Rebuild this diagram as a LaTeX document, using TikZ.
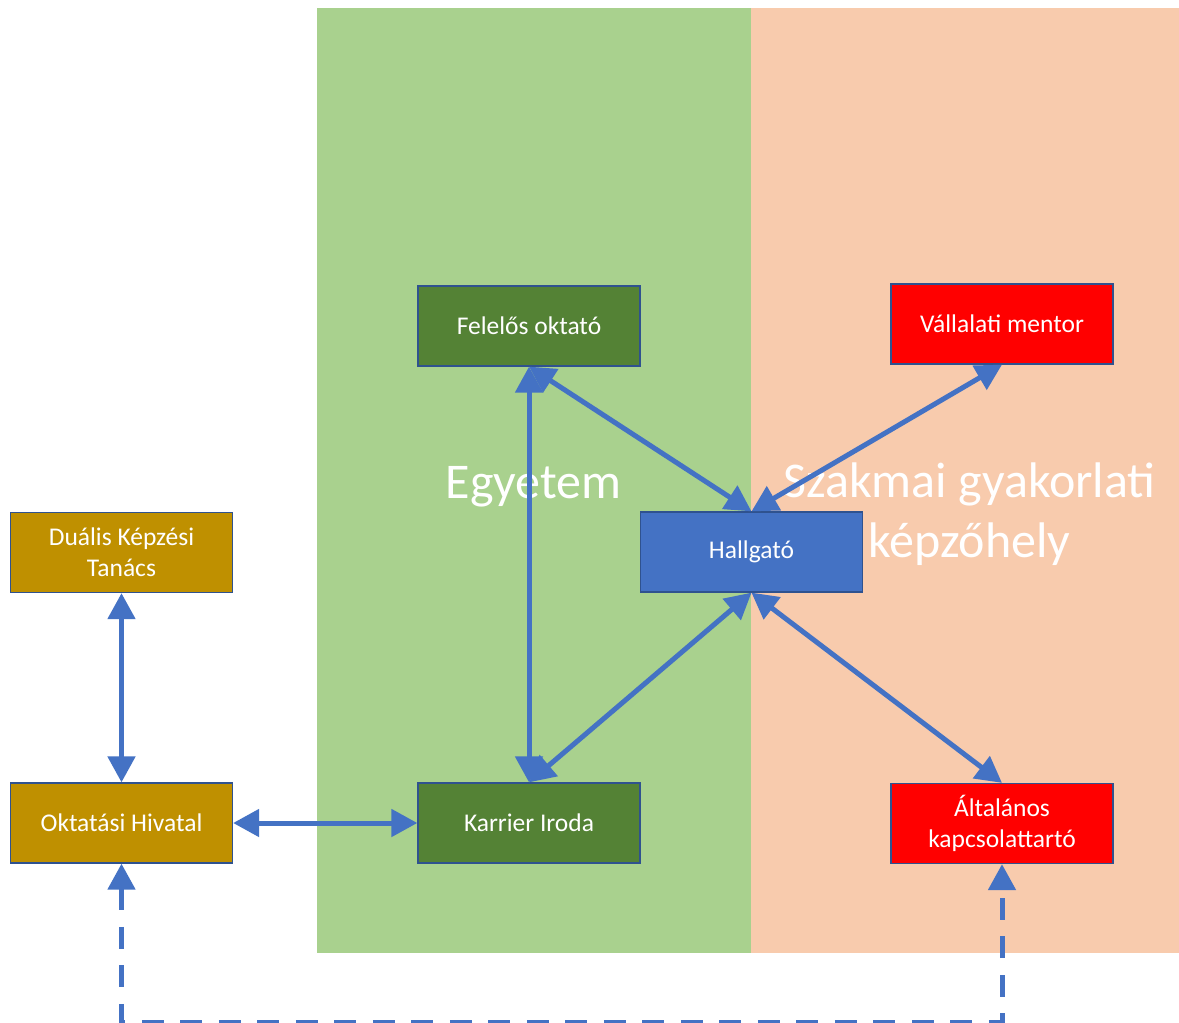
\documentclass[tikz,border=0pt]{standalone}
\usepackage{fontspec}
\setmainfont{Carlito}
\usetikzlibrary{arrows.meta}
\definecolor{lgreen}{HTML}{A9D18E}
\definecolor{peach}{HTML}{F8CBAD}
\definecolor{dgreen}{HTML}{548235}
\definecolor{bblue}{HTML}{4472C4}
\definecolor{gold}{HTML}{BF9000}
\definecolor{rred}{HTML}{FF0000}
\definecolor{bordc}{HTML}{2F528F}
\begin{document}
\begin{tikzpicture}[x=1pt,y=-1pt,
  box/.style={draw=bordc, line width=1.3pt, minimum width=222pt, minimum height=80pt,
    inner sep=0pt, text=white, align=center, font=\fontsize{25.5pt}{31pt}\selectfont},
  bigtext/.style={text=white, align=center, inner sep=0pt, font=\fontsize{50pt}{60pt}\selectfont},
  tip/.tip={Triangle[length=26pt,width=27pt]},
  link/.style={draw=bblue, line width=5pt, tip-tip},
  dlink/.style={draw=bblue, line width=5pt, tip-tip, dash pattern=on 22pt off 16.5pt}
]
\useasboundingbox (0,0) rectangle (1179,1023);
\fill[white] (0,0) rectangle (1179,1023);
\fill[lgreen] (317,8) rectangle (751,953);
\fill[peach] (751,8) rectangle (1179,953);

\node[bigtext, anchor=base] (uni) at (533.5,498) {Egyetem};
\node[bigtext, anchor=base] (firm) at (969.5,557) {Szakmai gyakorlati\\képzőhely};

\node[box, fill=dgreen] (fel) at (529,326) {Felelős oktató};
\node[box, fill=rred] (vm) at (1002,324) {Vállalati mentor};
\node[box, fill=bblue] (hall) at (751.5,552) {Hallgató};
\node[box, fill=gold] (dkt) at (121.5,552.5) {Duális Képzési\\Tanács};
\node[box, fill=gold] (oh) at (121.5,823) {Oktatási Hivatal};
\node[box, fill=dgreen] (ki) at (529,823) {Karrier Iroda};
\node[box, fill=rred] (alt) at (1002,823.5) {Általános\\kapcsolattartó};

\coordinate (c1) at (121.5,1022);
\coordinate (c2) at (1002,1022);

\draw[link] (fel.south) -- (ki.north);
\draw[link] (fel.south) -- (hall.north);
\draw[link] (hall.north) -- (vm.south);
\draw[link] (hall.south) -- (ki.north);
\draw[link] (hall.south) -- (alt.north);
\draw[link] (dkt.south) -- (oh.north);
\draw[link] (oh.east) -- (ki.west);
\draw[dlink] (oh.south) -- (c1) -- (c2) -- (alt.south);
\end{tikzpicture}
\end{document}
